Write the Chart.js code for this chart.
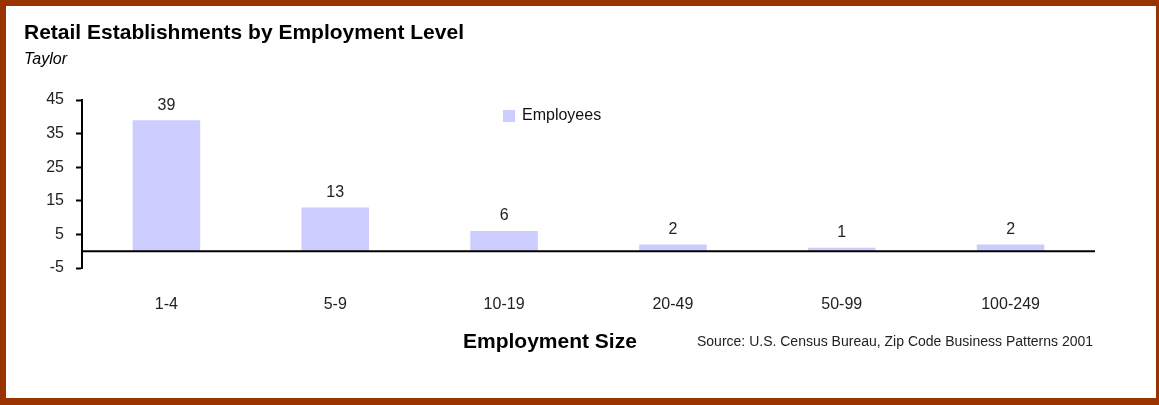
<!DOCTYPE html>
<html>
<head>
<meta charset="utf-8">
<script src="https://cdn.jsdelivr.net/npm/chart.js@4"></script>
<style>
  html, body { margin: 0; padding: 0; background: #fff; }
  #wrap { position: relative; width: 1159px; height: 405px; }
  #frame {
    position: absolute; left: 0; top: 0; width: 1159px; height: 405px;
    box-sizing: border-box; border-style: solid; border-color: #993300;
    border-width: 6px 3px 7px 6px; pointer-events: none;
  }
  canvas { position: absolute; left: 0; top: 0; }
</style>
</head>
<body>
<div id="wrap">
  <canvas id="retailChart" width="1159" height="405"></canvas>
  <div id="frame"></div>
</div>
<script>
// data
const sizeLabels = ['1-4', '5-9', '10-19', '20-49', '50-99', '100-249'];
const employees = [39, 13, 6, 2, 1, 2];
const yTicks = [-5, 5, 15, 25, 35, 45];

const FONT = '"Liberation Sans Narrow", "Arial Narrow", "Liberation Sans", Arial, sans-serif';

// zero line across the plot
const zeroLine = {
    id: 'zeroLine',
    afterDatasetsDraw(chart) {
        const c = chart.ctx;
        const y = chart.scales.y.getPixelForValue(0);
        const area = chart.chartArea;
        c.save();
        c.strokeStyle = '#000';
        c.lineWidth = 2;
        c.beginPath();
        c.moveTo(area.left, y);
        c.lineTo(area.right, y);
        c.stroke();
        c.restore();
    }
};

// titles, value labels, legend, source note
const textPlugin = {
    id: 'textPlugin',
    afterDatasetsDraw(chart) {
        const c = chart.ctx;
        c.save();
        c.fillStyle = '#000';
        c.textBaseline = 'middle';
        c.textAlign = 'left';
        c.font = 'bold 21px ' + FONT;
        c.fillText('Retail Establishments by Employment Level', 24, 33);
        c.font = 'italic 16px ' + FONT;
        c.fillText('Taylor', 24, 60);

        // values above bars
        const meta = chart.getDatasetMeta(0);
        c.font = '16px ' + FONT;
        c.fillStyle = '#222';
        c.textAlign = 'center';
        c.textBaseline = 'bottom';
        meta.data.forEach((bar, i) => {
            c.fillText(String(employees[i]), bar.x, bar.y - 7);
        });

        // legend
        const ds = chart.data.datasets[0];
        c.fillStyle = ds.backgroundColor;
        c.fillRect(503, 110, 12, 12);
        c.fillStyle = '#111';
        c.textAlign = 'left';
        c.textBaseline = 'middle';
        c.fillText(ds.label, 522, 116);

        // axis title and source
        c.font = 'bold 21px ' + FONT;
        c.fillStyle = '#000';
        c.fillText('Employment Size', 463, 342);
        c.font = '14px ' + FONT;
        c.fillStyle = '#222';
        c.fillText('Source: U.S. Census Bureau, Zip Code Business Patterns 2001', 697, 342);
        c.restore();
    }
};

const ctx = document.getElementById('retailChart').getContext('2d');
new Chart(ctx, {
    type: 'bar',
    data: {
        labels: sizeLabels,
        datasets: [{
            label: 'Employees',
            data: employees,
            backgroundColor: '#CCCCFF',
            borderWidth: 0,
            categoryPercentage: 1,
            barPercentage: 0.4
        }]
    },
    options: {
        responsive: false,
        animation: false,
        layout: { padding: { left: 0, right: 64, top: 100, bottom: 0 } },
        plugins: {
            legend: { display: false },
            tooltip: { enabled: false }
        },
        scales: {
            x: {
                grid: { display: false },
                border: { display: false },
                ticks: { color: '#222', font: { family: FONT, size: 16 }, padding: 19, maxRotation: 0 },
                afterFit(scale) { scale.height = 137; }
            },
            y: {
                min: -5,
                max: 45,
                afterBuildTicks(scale) { scale.ticks = yTicks.map(v => ({ value: v })); },
                border: { display: true, color: '#000', width: 2 },
                grid: {
                    drawOnChartArea: false,
                    tickColor: '#000',
                    tickLength: 6,
                    tickWidth: 2
                },
                ticks: { color: '#222', font: { family: FONT, size: 16 }, padding: 12 },
                afterFit(scale) { scale.width = 82; }
            }
        }
    },
    plugins: [zeroLine, textPlugin]
});
</script>
</body>
</html>
